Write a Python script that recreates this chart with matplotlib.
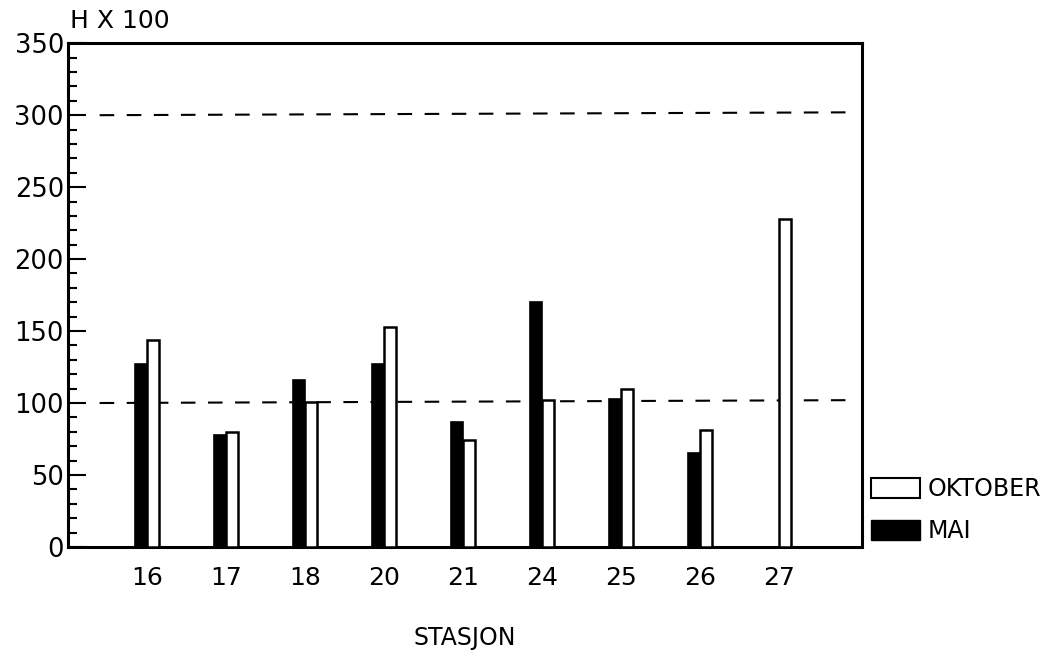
import matplotlib
matplotlib.use("Agg")
import matplotlib.pyplot as plt
from matplotlib.patches import Patch
import numpy as np

stations = ["16", "17", "18", "20", "21", "24", "25", "26", "27"]
mai = [127, 78, 116, 127, 87, 170, 103, 65, 0]
oktober = [144, 80, 101, 153, 74, 102, 110, 81, 228]
ref_levels = [100, 300]
yticks = [0, 50, 100, 150, 200, 250, 300, 350]

plt.rcParams['font.family'] = ['DejaVu Sans']
fig = plt.figure(figsize=(10.55, 6.55), dpi=100)
ax = fig.add_axes([0.0645, 0.165, 0.7525, 0.769])

x = np.arange(len(stations))
w = 0.15
ax.bar(x - w / 2, mai, width=w, color='black', edgecolor='black', linewidth=1.2, zorder=3)
ax.bar(x + w / 2, oktober, width=w, color='white', edgecolor='black', linewidth=1.8, zorder=3)

for lv in ref_levels:
    ax.plot([-0.6, 9.0], [lv, lv + 2], color='black', linestyle=(0, (7, 6)), linewidth=1.5, zorder=2)

ax.set_xlim(-1.0, 9.05)
ax.set_ylim(0, 350)
ax.set_xticks(x)
ax.set_xticklabels(stations, fontsize=18)
ax.tick_params(axis='x', length=0, pad=14)
ax.set_yticks(yticks)
ax.set_yticklabels([str(v) for v in yticks], fontsize=18.5)
ax.set_yticks(np.arange(0, 351, 10), minor=True)
ax.tick_params(axis='y', which='major', direction='in', length=13, width=1.5, pad=3)
ax.tick_params(axis='y', which='minor', direction='in', length=6.5, width=1.5)
for s in ax.spines.values():
    s.set_linewidth(2.2)

ax.set_xlabel("STASJON", fontsize=17, labelpad=26)
fig.text(0.066, 0.95, "H X 100", fontsize=18, ha='left', va='bottom')

handles = [Patch(facecolor='white', edgecolor='black', linewidth=1.5, label='OKTOBER'),
           Patch(facecolor='black', edgecolor='black', label='MAI')]
ax.legend(handles=handles, loc='lower left', bbox_to_anchor=(0.99, -0.025), frameon=False,
          fontsize=17, handlelength=2.1, handleheight=0.9, handletextpad=0.3,
          labelspacing=0.75, borderaxespad=0.3)

fig.savefig("out.png", dpi=100)
